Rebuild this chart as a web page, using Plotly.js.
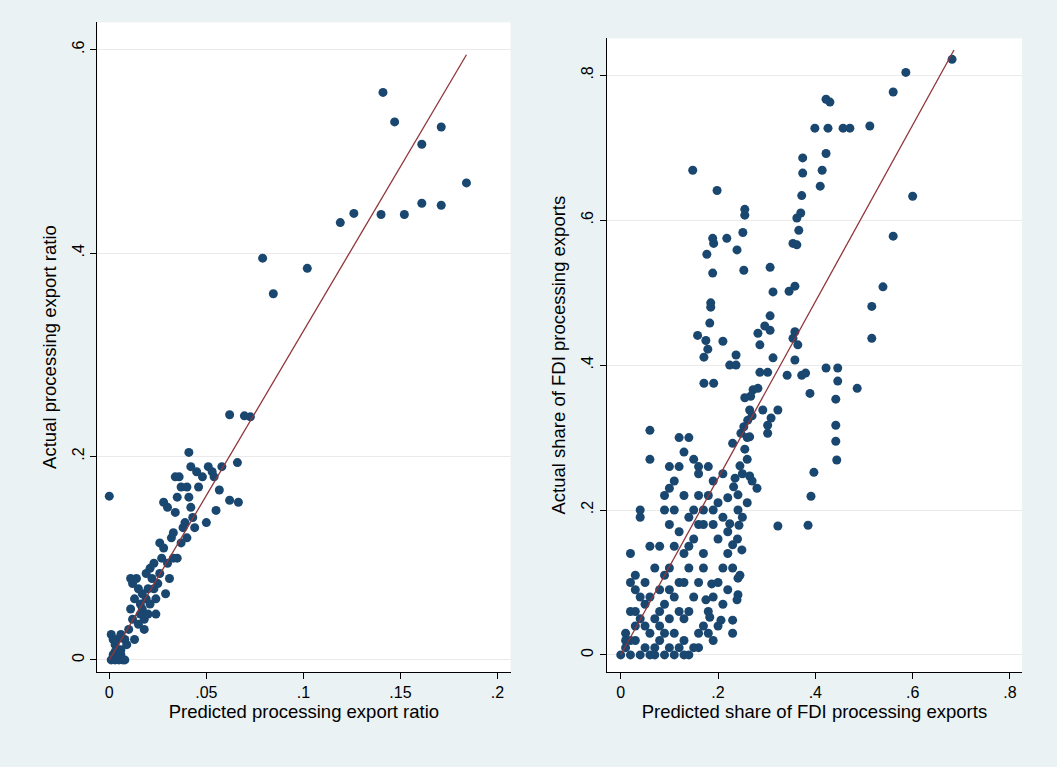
<!DOCTYPE html>
<html><head><meta charset="utf-8">
<script src="https://cdn.plot.ly/plotly-3.0.1.min.js"></script>
<style>body{margin:0;background:#eaf2f3}</style></head>
<body><div id="g" style="width:1057px;height:767px"></div>
<script>
const leftX=[0.141,0.147,0.161,0.171,0.184,0.171,0.161,0.152,0.140,0.126,0.119,0.102,0.079,0.0845,0.0727,0.0696,0.062,0.066,0.062,0.0665,0.0567,0.055,0.058,0.041,0,
0.001,0.002,0.003,0.004,0.005,0.006,0.007,0.008,0.002,0.001,0.004,0.003,0.006,0.008,0.01,0.012,0.011,0.013,0.012,0.011,0.014,0.015,0.016,0.017,0.018,0.019,0.02,0.02,0.021,0.022,0.023,0.024,0.025,0.026,0.027,0.026,0.028,0.028,0.03,0.03,0.031,0.032,0.033,0.034,0.035,0.034,0.036,0.037,0.038,0.039,0.04,0.04,0.041,0.042,0.043,0.044,0.045,0.046,0.048,0.05,0.051,0.053,0.054,0.042,0.037,0.035,0.033,0.029,0.024,0.018,0.015,0.009,0.013,0.016,0.019,0.017,0.021,0.023,0.006,0.003];
const leftY=[0.558,0.529,0.507,0.524,0.469,0.447,0.449,0.438,0.438,0.439,0.430,0.385,0.395,0.360,0.239,0.240,0.241,0.194,0.157,0.155,0.167,0.147,0.19,0.204,0.161,
0.0,0.005,0.0,0.01,0.0,0.005,0.0,0.0,0.02,0.025,0.02,0.015,0.025,0.02,0.03,0.04,0.05,0.06,0.075,0.08,0.08,0.07,0.055,0.05,0.04,0.06,0.07,0.045,0.09,0.08,0.07,0.06,0.075,0.085,0.1,0.115,0.11,0.155,0.15,0.095,0.08,0.12,0.125,0.145,0.16,0.18,0.18,0.17,0.13,0.135,0.12,0.17,0.16,0.15,0.14,0.13,0.185,0.17,0.18,0.135,0.19,0.185,0.18,0.19,0.115,0.1,0.1,0.065,0.045,0.03,0.035,0.015,0.02,0.045,0.085,0.065,0.055,0.095,0.01,0.008];
const leftFitX=[0,0.184], leftFitY=[0,0.595];

const rightX=[0.681,0.586,0.56,0.6,0.56,0.539,0.516,0.516,0.486,0.512,0.471,0.457,0.426,0.43,0.422,0.399,0.422,0.414,0.41,0.374,0.374,0.372,0.370,0.362,0.366,0.354,0.362,0.358,0.346,0.358,0.354,0.364,0.358,0.342,0.372,0.380,0.389,0.422,0.446,0.446,0.442,0.442,0.442,0.444,0.397,0.391,0.385,0.323,0.307,0.313,0.307,0.296,0.307,0.282,0.286,0.313,0.286,0.302,0.272,0.282,0.267,0.255,0.265,0.292,0.323,0.309,0.302,0.302,0.255,0.255,0.251,0.253,0.239,0.218,0.189,0.191,0.177,0.198,0.148,0.189,0.185,0.185,0.183,0.175,0.210,0.224,0.237,0.158,0.179,0.171,0.237,0.171,0.191,0.230,0.247,0.253,0.261,0.265,0.255,0.265,0.245,0.235,0.241,0.232,0.241,0.220,0.224,0.243,0.249,0.230,0.245,0.241,0.241,0.239,0.230,0.230,0.206,0.183,0.175,0.187,
0.00,0.01,0.02,0.01,0.03,0.02,0.03,0.04,0.05,0.06,0.05,0.06,0.07,0.08,0.07,0.08,0.09,0.10,0.09,0.10,0.11,0.12,0.13,0.14,0.15,0.16,0.13,0.11,0.12,0.13,0.14,0.15,0.16,0.17,0.18,0.19,0.20,0.21,0.12,0.11,0.10,0.12,0.13,0.14,0.12,0.15,0.16,0.18,0.13,0.14,0.11,0.10,0.09,0.08,0.07,0.06,0.06,0.06,0.04,0.04,0.02,0.02,0.03,0.03,0.08,0.09,0.10,0.11,0.07,0.05,0.04,0.06,0.09,0.13,0.16,0.17,0.18,0.19,0.20,0.21,0.22,0.20,0.19,0.17,0.16,0.15,0.14,0.18,0.19,0.20,0.21,0.22,0.23,0.17,0.12,0.10,0.08,0.05,0.04,0.03,0.02,0.01,0.13,0.14,0.15,0.16,0.17,0.19,0.21,0.22,0.24,0.25,0.26,0.27,0.26,0.25,0.28,0.26,0.27,0.11,0.09,0.10,0.16];
const rightY=[0.822,0.804,0.777,0.633,0.578,0.508,0.481,0.437,0.368,0.730,0.727,0.727,0.727,0.763,0.767,0.727,0.692,0.669,0.647,0.686,0.665,0.634,0.61,0.603,0.586,0.568,0.566,0.509,0.502,0.446,0.437,0.428,0.407,0.386,0.386,0.389,0.361,0.396,0.396,0.378,0.353,0.317,0.295,0.269,0.252,0.219,0.179,0.178,0.535,0.501,0.468,0.454,0.448,0.444,0.428,0.410,0.390,0.390,0.366,0.368,0.357,0.355,0.338,0.338,0.338,0.327,0.317,0.306,0.607,0.615,0.583,0.531,0.559,0.575,0.575,0.568,0.553,0.641,0.669,0.527,0.486,0.480,0.458,0.434,0.433,0.4,0.4,0.441,0.422,0.411,0.414,0.375,0.375,0.292,0.306,0.315,0.324,0.301,0.284,0.247,0.261,0.244,0.221,0.232,0.2,0.217,0.181,0.179,0.145,0.152,0.110,0.106,0.083,0.076,0.048,0.030,0.048,0.052,0.076,0.098,
0.00,0.01,0.02,0.03,0.02,0.06,0.09,0.05,0.07,0.08,0.04,0.03,0.01,0.02,0.05,0.09,0.11,0.12,0.07,0.05,0.03,0.01,0.02,0.00,0.01,0.03,0.05,0.08,0.10,0.14,0.12,0.16,0.18,0.20,0.22,0.24,0.21,0.25,0.17,0.20,0.23,0.26,0.28,0.30,0.30,0.27,0.25,0.26,0.22,0.19,0.15,0.18,0.22,0.15,0.12,0.15,0.27,0.31,0.20,0.19,0.14,0.10,0.11,0.06,0.04,0.03,0.01,0.00,0.00,0.01,0.00,0.00,0.00,0.00,0.01,0.04,0.06,0.08,0.10,0.12,0.14,0.16,0.18,0.14,0.10,0.08,0.06,0.03,0.02,0.04,0.07,0.09,0.12,0.12,0.06,0.09,0.06,0.10,0.08,0.04,0.00,0.02,0.10,0.15,0.20,0.22,0.18,0.20,0.19,0.17,0.16,0.19,0.21,0.24,0.27,0.25,0.23,0.30,0.33,0.24,0.20,0.26,0.26];
const rightFitX=[0,0.685], rightFitY=[0,0.835];

const navy='#1a476f', red='#90353b';
const mk={color:navy,size:9};
const traces=[
 {x:leftX,y:leftY,mode:'markers',type:'scatter',marker:mk,xaxis:'x',yaxis:'y',cliponaxis:false},
 {x:leftFitX,y:leftFitY,mode:'lines',type:'scatter',line:{color:red,width:1.3},xaxis:'x',yaxis:'y'},
 {x:rightX,y:rightY,mode:'markers',type:'scatter',marker:mk,xaxis:'x2',yaxis:'y2',cliponaxis:false},
 {x:rightFitX,y:rightFitY,mode:'lines',type:'scatter',line:{color:red,width:1.3},xaxis:'x2',yaxis:'y2'}
];
const ax={showline:true,linecolor:'#000',linewidth:1,ticks:'outside',ticklen:6,tickcolor:'#000',zeroline:false,tickfont:{size:16,color:'#000'}};
const font={family:'Arial, Liberation Sans, sans-serif',size:18.5,color:'#000'};
const layout={
 width:1057,height:767,showlegend:false,paper_bgcolor:'#eaf2f3',plot_bgcolor:'#fff',
 margin:{l:0,r:0,t:0,b:0},font:font,
 xaxis:Object.assign({},ax,{domain:[0.092,0.483],range:[-0.0062,0.2067],tickvals:[0,0.05,0.1,0.15,0.2],ticktext:['0','.05','.1','.15','.2'],showgrid:false,anchor:'y',title:{text:'Predicted processing export ratio',font:font,standoff:4}}),
 yaxis:Object.assign({},ax,{domain:[0.124,0.971],range:[-0.0118,0.627],tickvals:[0,0.2,0.4,0.6],ticktext:['0','.2','.4','.6'],tickangle:-90,showgrid:true,gridcolor:'#eaeaea',anchor:'x',title:{text:'Actual processing export ratio',font:font,standoff:8}}),
 xaxis2:Object.assign({},ax,{domain:[0.574,0.967],range:[-0.0288,0.825],tickvals:[0,0.2,0.4,0.6,0.8],ticktext:['0','.2','.4','.6','.8'],showgrid:false,anchor:'y2',title:{text:'Predicted share of FDI processing exports',font:font,standoff:4}}),
 yaxis2:Object.assign({},ax,{domain:[0.124,0.950],range:[-0.0234,0.851],tickvals:[0,0.2,0.4,0.6,0.8],ticktext:['0','.2','.4','.6','.8'],tickangle:-90,showgrid:true,gridcolor:'#eaeaea',anchor:'x2',title:{text:'Actual share of FDI processing exports',font:font,standoff:8}})
};
Plotly.newPlot('g',traces,layout,{displayModeBar:false});
</script></body></html>
